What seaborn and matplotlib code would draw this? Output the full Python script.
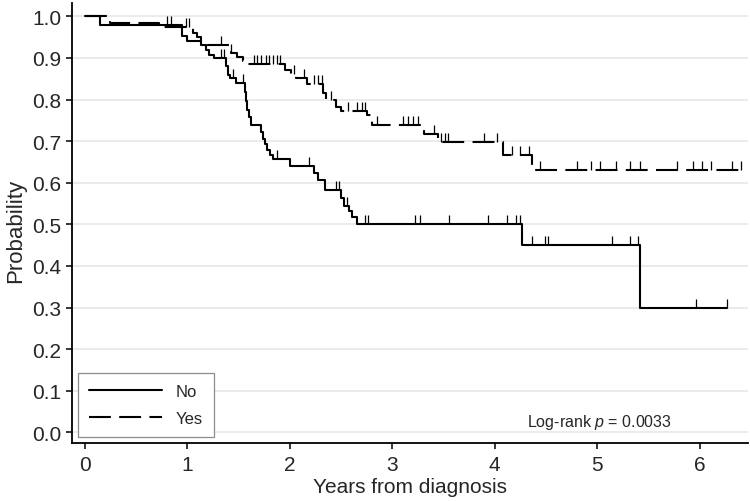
import numpy as np
import pandas as pd
import matplotlib
matplotlib.use("Agg")
import matplotlib.pyplot as plt
import seaborn as sns

# Kaplan-Meier steps (time in years, survival after step)
no_times = [0, 0.15, 0.95, 1.00, 1.13, 1.18, 1.21, 1.26, 1.38, 1.40, 1.42, 1.47,
            1.56, 1.57, 1.58, 1.60, 1.62, 1.72, 1.74, 1.76, 1.78, 1.81, 1.84,
            2.00, 2.24, 2.27, 2.34, 2.50, 2.53, 2.58, 2.61, 2.66, 4.27, 5.42]
no_surv = [1.0, 0.980, 0.952, 0.940, 0.931, 0.919, 0.907, 0.899, 0.880, 0.860, 0.851, 0.840,
           0.818, 0.796, 0.775, 0.757, 0.738, 0.722, 0.706, 0.692, 0.678, 0.666, 0.656,
           0.640, 0.623, 0.606, 0.583, 0.563, 0.545, 0.532, 0.518, 0.500, 0.450, 0.300]
no_end = 6.27
no_censor = [0.80, 0.84, 1.33, 1.36, 1.44, 1.54, 1.87, 2.19, 2.45, 2.48, 2.56,
             2.73, 2.76, 3.22, 3.27, 3.55, 3.93, 4.12, 4.21, 4.25,
             4.36, 4.49, 4.52, 5.14, 5.32, 5.40, 5.96, 6.27]

yes_times = [0, 0.24, 0.72, 1.05, 1.09, 1.13, 1.17, 1.43, 1.48, 1.54, 1.59,
             1.95, 2.01, 2.06, 2.17, 2.32, 2.35, 2.45, 2.50, 2.75, 2.80,
             3.28, 3.31, 3.45, 4.08, 4.36]
yes_surv = [1.0, 0.984, 0.975, 0.959, 0.950, 0.939, 0.931, 0.911, 0.903, 0.893, 0.886,
            0.871, 0.862, 0.851, 0.838, 0.815, 0.798, 0.783, 0.772, 0.763, 0.738,
            0.730, 0.718, 0.699, 0.667, 0.630]
yes_end = 6.40
yes_censor = [0.99, 1.02, 1.33, 1.43, 1.65, 1.68, 1.72, 1.77, 1.80, 1.84, 1.87, 1.90,
              2.04, 2.14, 2.24, 2.27, 2.31, 2.40, 2.57, 2.66, 2.70, 2.73, 2.85,
              3.10, 3.15, 3.20, 3.25, 3.41, 3.48, 3.51, 3.54, 3.90, 4.02, 4.17, 4.25, 4.33,
              4.44, 4.80, 4.94, 5.03, 5.18, 5.32, 5.42, 5.78, 5.94, 6.02, 6.11, 6.32, 6.40]

groups = ["No", "Yes"]
p_text = "Log-rank $p$ = 0.0033"


def surv_at(times, surv, t):
    idx = np.searchsorted(times, t, side="right") - 1
    return np.asarray(surv)[idx]


def build_frames():
    curves = []
    marks = []
    for name, times, surv, end, cens in [
        ("No", no_times, no_surv, no_end, no_censor),
        ("Yes", yes_times, yes_surv, yes_end, yes_censor),
    ]:
        t = list(times) + [end]
        s = list(surv) + [surv[-1]]
        curves.append(pd.DataFrame({"time": t, "surv": s, "group": name}))
        marks.append(pd.DataFrame({"time": cens, "surv": surv_at(times, surv, np.array(cens)), "group": name}))
    return pd.concat(curves, ignore_index=True), pd.concat(marks, ignore_index=True)


sns.set_theme(style="white")
plt.rcParams["font.family"] = ["Liberation Sans", "DejaVu Sans"]
plt.rcParams["mathtext.fontset"] = "custom"
plt.rcParams["mathtext.it"] = "Liberation Sans:italic"
plt.rcParams["mathtext.rm"] = "Liberation Sans"

curves, marks = build_frames()

fig = plt.figure(figsize=(7.5, 5.02), dpi=100)
ax = fig.add_axes([0.096, 0.1155, 0.901, 0.8765])

sns.lineplot(data=curves, x="time", y="surv", hue="group", style="group",
             hue_order=groups, style_order=groups,
             palette={"No": "black", "Yes": "black"},
             dashes={"No": "", "Yes": (10.5, 4)},
             estimator=None, sort=False, drawstyle="steps-post",
             linewidth=1.5, ax=ax, legend=True)
sns.scatterplot(data=marks, x="time", y="surv", marker=2, s=42, color="black",
                linewidth=0.9, ax=ax, legend=False)

ax.set_xlim(-0.127, 6.47)
ax.set_ylim(-0.0257, 1.032)
ax.set_xticks(range(0, 7))
ax.set_yticks(np.arange(0, 1.01, 0.1))
ax.set_yticklabels([f"{v:.1f}" for v in np.arange(0, 1.01, 0.1)])
ax.yaxis.grid(True, color="#ebebeb", linewidth=1.4)
ax.xaxis.grid(False)
ax.set_axisbelow(True)

for side in ["top", "right"]:
    ax.spines[side].set_visible(False)
for side in ["left", "bottom"]:
    ax.spines[side].set_color("black")
    ax.spines[side].set_linewidth(1.3)
ax.tick_params(axis="both", direction="out", length=4.5, width=1.1, color="black",
               labelsize=15, left=True, bottom=True)
ax.tick_params(axis="y", pad=3)
ax.tick_params(axis="x", pad=4)

ax.set_xlabel("Years from diagnosis", fontsize=15)
ax.set_ylabel("Probability", fontsize=16)
ax.xaxis.set_label_coords(0.5, -0.077)
ax.yaxis.set_label_coords(-0.068, 0.485)

handles, labels = ax.get_legend_handles_labels()
keep = [(h, l) for h, l in zip(handles, labels) if l in groups]
leg = ax.legend([h for h, _ in keep], [l for _, l in keep], loc="lower left",
                bbox_to_anchor=(0.009, 0.014), borderaxespad=0, fontsize=12,
                handlelength=4.4, handletextpad=0.78, labelspacing=0.74,
                borderpad=0.66, fancybox=False, frameon=True,
                edgecolor="#8c8c8c", framealpha=1)
leg.get_frame().set_linewidth(0.9)

ax.text(5.02, 0.027, p_text, fontsize=11.5, ha="center", va="center")

fig.savefig("out.png", dpi=100)
